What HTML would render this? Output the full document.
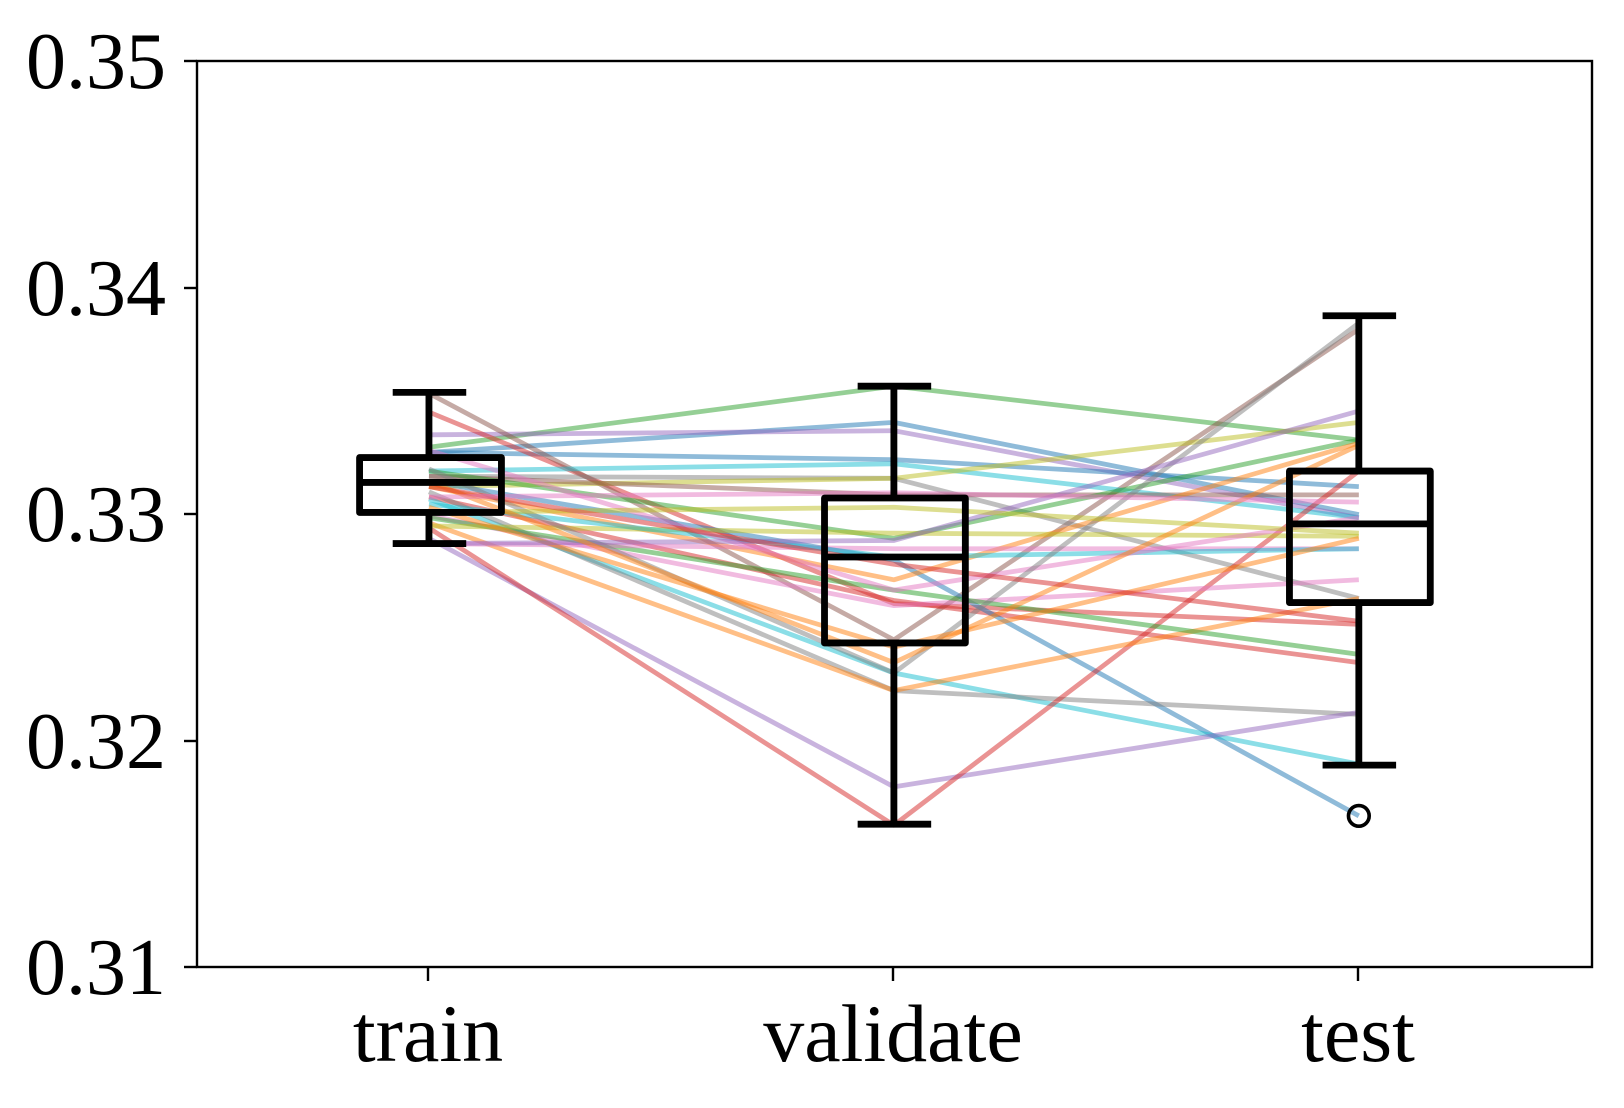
<!DOCTYPE html>
<html><head><meta charset="utf-8"><style>
html,body{margin:0;padding:0;background:#fff}
svg{display:block}
text{font-family:"Liberation Serif",serif;fill:#000}
</style></head><body>
<svg width="1624" height="1108" viewBox="0 0 1624 1108" xmlns="http://www.w3.org/2000/svg">
<rect width="1624" height="1108" fill="#fff"/>
<g transform="translate(197,61) scale(1.0355) translate(-189,-59)">
<g fill="none" stroke-width="4.6" stroke-opacity="0.5" stroke-linejoin="round">
<polyline stroke="#2ca02c" points="413,432 862,373 1311,425"/>
<polyline stroke="#1f77b4" points="413,437 862,408 1311,497"/>
<polyline stroke="#9467bd" points="413,420 862,416 1311,500"/>
<polyline stroke="#1f77b4" points="413,437 862,444 1311,470"/>
<polyline stroke="#d62728" points="413,398 862,583 1311,603"/>
<polyline stroke="#8c564b" points="413,380 862,618 1311,318"/>
<polyline stroke="#17becf" points="413,455 862,448 1311,500"/>
<polyline stroke="#7f7f7f" points="413,460 862,462 1311,578"/>
<polyline stroke="#bcbd22" points="413,470 862,462 1311,408"/>
<polyline stroke="#8c564b" points="413,460 862,478 1311,478"/>
<polyline stroke="#d62728" points="413,480 862,580 1311,640"/>
<polyline stroke="#2ca02c" points="413,455 862,520 1311,425"/>
<polyline stroke="#1f77b4" points="413,465 862,541 1311,788"/>
<polyline stroke="#17becf" points="413,482 862,650 1311,738"/>
<polyline stroke="#ff7f0e" points="413,470 862,560 1311,428"/>
<polyline stroke="#7f7f7f" points="413,475 862,667 1311,690"/>
<polyline stroke="#9467bd" points="413,520 862,760 1311,688"/>
<polyline stroke="#d62728" points="413,510 862,797 1311,455"/>
<polyline stroke="#ff7f0e" points="413,505 862,667 1311,578"/>
<polyline stroke="#e377c2" points="413,498 862,585 1311,560"/>
<polyline stroke="#2ca02c" points="413,500 862,570 1311,632"/>
<polyline stroke="#bcbd22" points="413,508 862,515 1311,518"/>
<polyline stroke="#e377c2" points="413,525 862,530 1311,530"/>
<polyline stroke="#17becf" points="413,487 862,538 1311,530"/>
<polyline stroke="#e377c2" points="413,435 862,570 1311,500"/>
<polyline stroke="#7f7f7f" points="413,453 862,650 1311,312"/>
<polyline stroke="#ff7f0e" points="413,490 862,625 1311,520"/>
<polyline stroke="#9467bd" points="413,525 862,522 1311,397"/>
<polyline stroke="#bcbd22" points="413,495 862,490 1311,515"/>
<polyline stroke="#ff7f0e" points="413,465 862,640 1311,430"/>
<polyline stroke="#d62728" points="413,470 862,545 1311,600"/>
<polyline stroke="#e377c2" points="413,480 862,476 1311,485"/>
</g>
<g fill="none" stroke="#000" stroke-width="6.6" stroke-linejoin="round">
<rect x="346" y="442" width="137" height="53"/>
<line x1="346" y1="466" x2="483" y2="466"/>
<line x1="413" y1="379" x2="413" y2="442"/><line x1="413" y1="495" x2="413" y2="525"/>
<line x1="378" y1="379" x2="449" y2="379"/><line x1="378" y1="525" x2="449" y2="525"/>
<rect x="795" y="481" width="136" height="140"/>
<line x1="795" y1="538" x2="931" y2="538"/>
<line x1="862" y1="373" x2="862" y2="481"/><line x1="862" y1="621" x2="862" y2="796"/>
<line x1="827" y1="373" x2="898" y2="373"/><line x1="827" y1="796" x2="898" y2="796"/>
<rect x="1244" y="455" width="136" height="127"/>
<line x1="1244" y1="506" x2="1380" y2="506"/>
<line x1="1311" y1="305" x2="1311" y2="455"/><line x1="1311" y1="582" x2="1311" y2="739"/>
<line x1="1276" y1="305" x2="1347" y2="305"/><line x1="1276" y1="739" x2="1347" y2="739"/>
<circle cx="1311" cy="788" r="10" stroke-width="3.5"/>
</g>
</g>
<g stroke="#000" stroke-width="2.4" fill="none">
<rect x="197" y="61" width="1395" height="906"/>
<line x1="184" y1="61" x2="197" y2="61"/>
<line x1="184" y1="288" x2="197" y2="288"/>
<line x1="184" y1="514" x2="197" y2="514"/>
<line x1="184" y1="741" x2="197" y2="741"/>
<line x1="184" y1="967" x2="197" y2="967"/>
<line x1="428" y1="967" x2="428" y2="981"/>
<line x1="893" y1="967" x2="893" y2="981"/>
<line x1="1358" y1="967" x2="1358" y2="981"/>
</g>
<g font-size="80" text-anchor="end">
<text x="166" y="88">0.35</text>
<text x="166" y="315">0.34</text>
<text x="166" y="541">0.33</text>
<text x="166" y="768">0.32</text>
<text x="166" y="994">0.31</text>
</g>
<g font-size="82" text-anchor="middle">
<text x="428" y="1061">train</text>
<text x="893" y="1061">validate</text>
<text x="1358" y="1061">test</text>
</g>
</svg>
</body></html>
